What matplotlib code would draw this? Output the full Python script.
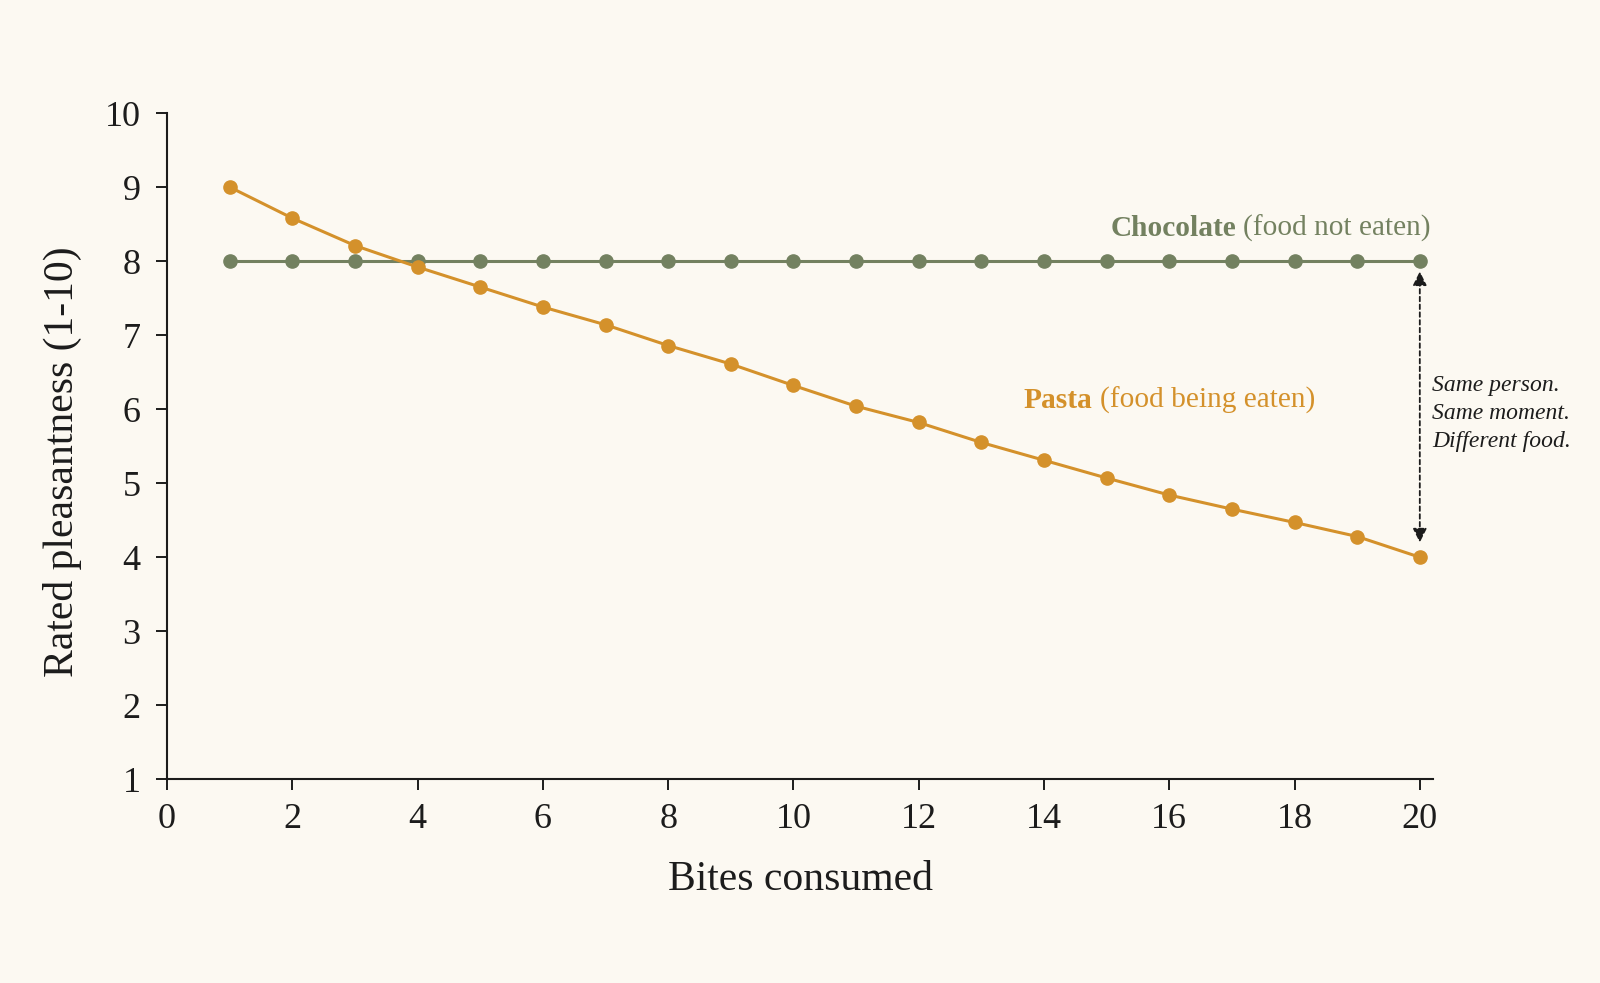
import matplotlib
matplotlib.use("Agg")
import matplotlib.pyplot as plt

bites = list(range(1, 21))
pasta = [9.0, 8.58, 8.21, 7.92, 7.65, 7.38, 7.14, 6.86, 6.61, 6.32,
         6.04, 5.82, 5.55, 5.31, 5.07, 4.84, 4.65, 4.47, 4.28, 4.0]
chocolate = [8.0] * 20
xticks = list(range(0, 21, 2))
yticks = list(range(1, 11))

BG = "#FCF9F2"
PASTA_C = "#D4912B"
CHOC_C = "#738160"
INK = "#1C1C1C"

plt.rcParams['font.family'] = ['Liberation Serif', 'DejaVu Serif']

fig = plt.figure(figsize=(16, 9.83), dpi=100, facecolor=BG)
ax = fig.add_axes([0.1044, 0.2072, 0.7912, 0.6778])
ax.set_facecolor(BG)

ax.plot(bites, chocolate, color=CHOC_C, lw=2.2, marker='o', ms=9.5, zorder=3)
ax.plot(bites, pasta, color=PASTA_C, lw=2.2, marker='o', ms=9.5, zorder=3)

ax.set_xlim(0, 20.21)
ax.set_ylim(1, 10)
ax.set_xticks(xticks)
ax.set_yticks(yticks)
for s in ['top', 'right']:
    ax.spines[s].set_visible(False)
for s in ['left', 'bottom']:
    ax.spines[s].set_color(INK)
    ax.spines[s].set_linewidth(1.5)
ax.tick_params(axis='both', direction='out', length=8, width=1.4, color=INK,
               labelsize=26, labelcolor=INK)
ax.tick_params(axis='x', pad=9)
ax.tick_params(axis='y', pad=11)
ax.set_xlabel("Bites consumed", fontsize=30, color=INK, labelpad=17.5)
ax.set_ylabel("Rated pleasantness (1-10)", fontsize=30, color=INK, labelpad=16.5)
ax.yaxis.label.set_y(0.476)

# Series labels
t_choc = ax.text(20.17, 8.44, "(food not eaten)", fontsize=21.2, color=CHOC_C,
                 ha='right', va='center')
ax.annotate("Chocolate", xy=(0, 0.5), xycoords=t_choc, xytext=(-5, 0),
            textcoords='offset points', fontsize=21.2, fontweight='bold',
            color=CHOC_C, ha='right', va='center')

t_pasta = ax.text(13.68, 6.12, "Pasta", fontsize=21.2, fontweight='bold',
                  color=PASTA_C, ha='left', va='center')
ax.annotate("(food being eaten)", xy=(1, 0.5), xycoords=t_pasta, xytext=(5, 0),
            textcoords='offset points', fontsize=21.2, color=PASTA_C,
            ha='left', va='center')

# Gap annotation
ax.annotate("", xy=(20, 4.2), xytext=(20, 7.86),
            arrowprops=dict(arrowstyle='<|-|>', color=INK, lw=1.3,
                            linestyle=(0, (2.5, 1.8)), mutation_scale=21,
                            shrinkA=0, shrinkB=0), annotation_clip=False)
ax.text(20.2, 5.94, "Same person.\nSame moment.\nDifferent food.",
        fontsize=17, style='italic', color=INK, ha='left', va='center',
        linespacing=1.43, clip_on=False)

fig.savefig("out.png", dpi=100, facecolor=BG)
